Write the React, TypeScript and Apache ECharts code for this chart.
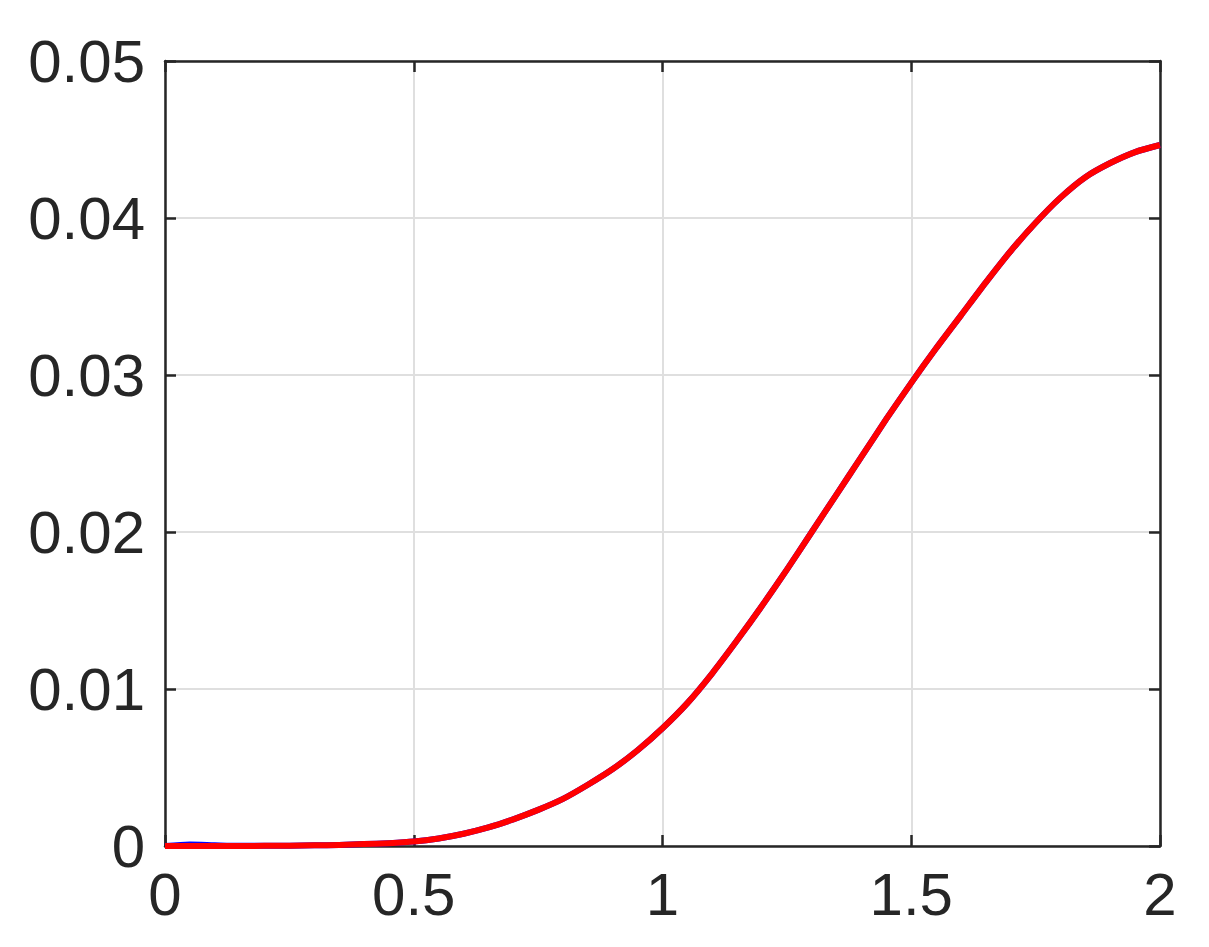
import React, { useEffect, useRef } from "react";
import * as echarts from "echarts";

const xValues = [0, 0.05, 0.1, 0.15, 0.2, 0.25, 0.3, 0.35, 0.4, 0.45, 0.5, 0.55, 0.6, 0.65, 0.7, 0.75, 0.8, 0.85, 0.9, 0.95, 1.0, 1.05, 1.1, 1.15, 1.2, 1.25, 1.3, 1.35, 1.4, 1.45, 1.5, 1.55, 1.6, 1.65, 1.7, 1.75, 1.8, 1.85, 1.9, 1.95, 2.0];
const redValues = [0, 0, 0, 0, 0.00001, 0.00002, 0.00004, 0.00007, 0.00012, 0.00018, 0.00028, 0.00048, 0.00078, 0.00118, 0.0017, 0.0023, 0.003, 0.0039, 0.0049, 0.0061, 0.0075, 0.0091, 0.011, 0.0131, 0.0153, 0.0176, 0.02, 0.0224, 0.0248, 0.0272, 0.0295, 0.0317, 0.0338, 0.0359, 0.0379, 0.0397, 0.0413, 0.0426, 0.0435, 0.0442, 0.04465];
const blueValues = [0, 0.0001, 0.00005, 0.00001, 0.00001, 0.00002, 0.00004, 0.00007, 0.00012, 0.00018, 0.00028, 0.00048, 0.00078, 0.00118, 0.0017, 0.0023, 0.003, 0.0039, 0.0049, 0.0061, 0.0075, 0.0091, 0.011, 0.0131, 0.0153, 0.0176, 0.02, 0.0224, 0.0248, 0.0272, 0.0295, 0.0317, 0.0338, 0.0359, 0.0379, 0.0397, 0.0413, 0.0426, 0.0435, 0.0442, 0.04465];
const xTicks = [0, 0.5, 1, 1.5, 2];
const yTicks = [0, 0.01, 0.02, 0.03, 0.04, 0.05];

const AXIS_COLOR = "#262626";
const FONT = "'Liberation Sans', Arial, Helvetica, sans-serif";

export default function App() {
  const ref = useRef<HTMLDivElement>(null);
  useEffect(() => {
    if (!ref.current) return;
    const chart = echarts.init(ref.current, undefined, { renderer: "svg" });
    const fmtX = (v: number) => (xTicks.includes(v) ? String(v) : "");
    const fmtY = (v: number) => {
      const r = Math.round(v * 100) / 100;
      if (!yTicks.includes(r)) return "";
      return r === 0 ? "0" : r.toFixed(2);
    };
    const baseAxis = {
      axisLine: { show: true, onZero: false, lineStyle: { color: AXIS_COLOR, width: 2.5 } },
      axisTick: { show: true, inside: true, length: 11, lineStyle: { color: AXIS_COLOR, width: 2.5 } },
    };
    chart.setOption({
      animation: false,
      backgroundColor: "#ffffff",
      grid: { left: 165, right: 49, top: 61, bottom: 101, containLabel: false },
      xAxis: [
        {
          type: "value",
          min: 0,
          max: 2,
          interval: 0.5,
          ...baseAxis,
          axisLabel: { show: true, color: AXIS_COLOR, fontSize: 60, fontFamily: FONT, margin: 18, formatter: fmtX },
          splitLine: { show: true, lineStyle: { color: "#dfdfdf", width: 2 } },
        },
        {
          type: "value",
          position: "top",
          min: 0,
          max: 2,
          interval: 0.5,
          ...baseAxis,
          axisLabel: { show: false },
          splitLine: { show: false },
        },
      ],
      yAxis: [
        {
          type: "value",
          min: 0,
          max: 0.05,
          interval: 0.01,
          ...baseAxis,
          axisLabel: {
            show: true,
            color: AXIS_COLOR,
            fontSize: 60,
            fontFamily: FONT,
            margin: 20,
            padding: [0, 0, 10, 0],
            formatter: fmtY,
          },
          splitLine: { show: true, lineStyle: { color: "#dfdfdf", width: 2 } },
        },
        {
          type: "value",
          position: "right",
          min: 0,
          max: 0.05,
          interval: 0.01,
          ...baseAxis,
          axisLabel: { show: false },
          splitLine: { show: false },
        },
      ],
      series: [
        {
          type: "line",
          name: "blue",
          data: xValues.map((x, i) => [x, blueValues[i]]),
          showSymbol: false,
          smooth: 0.25,
          lineStyle: { color: "#0000ff", width: 6, join: "round", cap: "butt" },
          z: 2,
        },
        {
          type: "line",
          name: "red",
          data: xValues.map((x, i) => [x, redValues[i]]),
          showSymbol: false,
          smooth: 0.25,
          lineStyle: { color: "#ff0000", width: 6, join: "round", cap: "butt" },
          z: 3,
        },
      ],
    });
    return () => chart.dispose();
  }, []);
  return (
    <div
      ref={ref}
      style={{ position: "absolute", left: 0, top: 0, width: 1209, height: 947, background: "#ffffff" }}
    />
  );
}
